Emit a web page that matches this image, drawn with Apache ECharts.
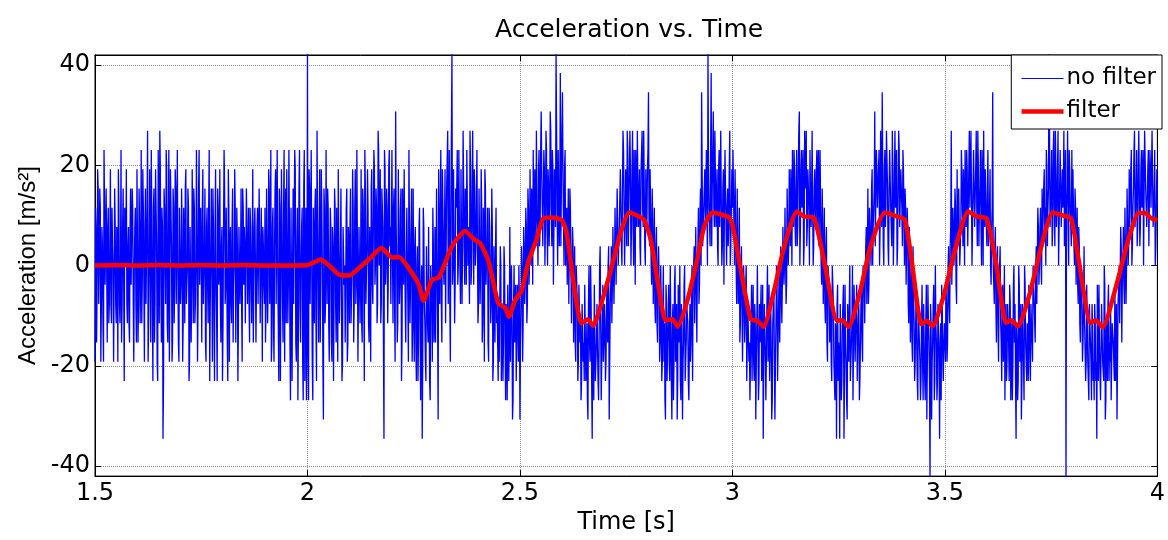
<!DOCTYPE html>
<html>
<head>
<meta charset="utf-8">
<title>Acceleration vs. Time</title>
<script src="https://cdn.jsdelivr.net/npm/echarts@6/dist/echarts.min.js"></script>
<style>
  html, body { margin: 0; padding: 0; background: #fff; }
  #app { width: 1168px; height: 540px; }
</style>
</head>
<body>
<div id="app"></div>
<script>
// raw accelerometer samples, in sensor counts (1 count = STEP m/s^2)
// evenX holds the samples on the 400 Hz grid from t = 1.5 s, oddX the samples half way between
var STEP = 3.84;
var T0 = 1.5;
var DT = 0.0025;

var evenA = [
  -5, 2, -1, 4, 0, 3, -2, 1, -5, 3, -1, 0, 2, -3, 1, -2, 3, 0, -1, 2,
  -3, 1, 5, -2, 0, -4, 2, -1, 3, 0, -2, 1, -3, 2, -1, 4, -2, 0, 3, -4,
  1, -2, 2, 0, -3, 5, -1, 2, -2, 3, -5, 1, 0, 6, -2, 3, -4, 5, 1, -6,
  2, 7, -1, 3, -9, 4, 0, 6, -3, 2, -5, 5, 1, -4, 3, -1, 4, -2, 0, -5,
  3, -1, 2, -3, 1, 4, -2, 0, 3, -5, 2, -1, 1, 4, -3, 0, 2, -2, 6, -1,
  0, 3, -2, 1, -4, 2, -1, 3, -6, 1, 0, 4, -3, 2, -1, -6, 3, 0, -2, 1,
  -6, 2, 4, -1, 0, -6, 3, 1, -2, 2, -4, 0, 3, -1, 1, -3, 2, 0, -2, 4,
  -1, 1, -3, 2, 0, -2, 3, -1, 1, -4, 2, 0, -1, 3, -2, 1, -3, 0, 2, -1,
  3, -2, 1, -1, 4, 0, -5, 2, -3, 1, 5, -2, 0, -6, 3, -1, 2, -4, 6, 1,
  -3, 5, -1, 2, -7, 3, 0, -2, 6, -4, 1, -7, 4, -2, 0, 3, -7, 6, -1, -7
];
var oddA = [
  3, -4, 5, -2, 4, -5, 2, -3, 6, -1, 4, -4, 3, -2, 5, -3, 1, -5, 4, -2,
  2, -5, 3, -3, 6, -2, 4, -6, 1, 5, -3, 2, -4, 4, -1, 3, -5, 2, -2, 5,
  -4, 4, -3, 6, -1, 3, -5, 4, -2, 7, -3, 5, -4, 2, -6, 4, -2, 3, -5, 6,
  -3, 5, -4, 2, -6, 3, -2, 5, -4, 6, -1, 3, -5, 4, -3, 5, -2, 6, -4, 3,
  -2, 4, -5, 3, -3, 5, -1, 4, -6, 2, -4, 5, -3, 3, -2, 6, -5, 4, -1, 3,
  -4, 5, -2, 4, -5, 3, -3, 6, -2, 4, -5, 2, -6, 5, -3, 4, -1, 5, -4, 2,
  -3, 6, -2, 3, -4, 5, -5, 2, -3, 4, -1, 5, -4, 3, -6, 2, -2, 4, -5, 3,
  2, -3, 4, -2, 3, -4, 2, -3, 5, -1, 3, -4, 2, -2, 4, -3, 3, -5, 1, -2,
  -4, 4, -3, 5, -2, 6, -4, 3, -5, 4, -2, 6, -3, 4, -6, 5, -2, 3, -5, 4,
  5, -3, 6, -4, 3, -6, 4, -2, 5, -5, 3, -3, 6, -4, 2, -5, 4, -6, 3, -4
];
var evenB = [
  11, -7, 4, -2, 6, -7, 1, 3, -3, 7, -1, 2, -4, 5, 0, -8, 3, -2, 1, 4,
  -3, 0, 2, -5, 1, -2, 3, -4, 0, 5, -3, 1, -2, -5, 2, 0, -1, 4, -4, 1,
  2, -3, 0, 3, -2, 5, -1, 1, -5, 2, 0, -3, 4, -1, 6, -2, 1, 3, -4, 0,
  4, -1, 2, 5, 0, 3, -2, 6, 1, -3, 4, 2, -9, 5, 0, 3, -1, 6, 2, -2,
  1, 3, -2, 8, 0, -3, 2, -1, 4, -4, 1, 5, -2, 0, 3, -5, 2, -1, 4, -3,
  -2, 1, -4, 0, -6, 2, -3, -1, -9, 3, -2, -5, 1, -3, 2, -6, 0, -2, 3, -4,
  2, -1, 4, -8, 1, 3, -2, 5, 0, 2, -3, 4, 7, 1, -2, 3, 11, 0, 5, -1,
  3, 6, 0, 2, -2, 5, 1, 4, -1, 3, 6, 0, 2, 7, -1, 4, 2, 5, 0, 3,
  1, -2, 4, 0, 3, -3, 2, 5, -1, 1, -4, 3, 0, -2, 2, -5, -1, 1, -3, -4,
  -2, -5, 0, -3, -6, 1, -4, -2, -7, -1, -3, -5, 0, -8, -2, -4, -1, -6, -3, 0
];
var oddB = [
  -4, 5, -2, 6, -5, 3, -3, 4, -6, 2, -4, 5, -1, 3, -5, 4, -3, 6, -2, 3,
  -5, 3, -4, 2, -6, 4, -2, 3, -5, 1, -3, 4, -6, 2, -1, -4, 3, -5, 2, -3,
  4, -3, 5, -4, 3, -2, 6, -5, 2, -3, 5, -4, 3, -6, 4, -2, 5, -3, 2, -5,
  5, -2, 6, -1, 4, -3, 7, 0, 5, -2, 3, -4, 6, -1, 4, -3, 5, 1, -2, 6,
  -3, 4, -5, 2, -4, 5, -2, 3, -6, 4, -1, 5, -4, 3, -2, 6, -3, 2, -5, 4,
  -5, 2, -6, 1, -4, 3, -7, 0, -5, 2, -3, -6, 1, -4, 2, -7, 0, -5, 1, -3,
  -4, 4, -3, 5, -2, 6, -4, 3, -1, 5, -3, 4, -2, 6, -5, 3, -1, 5, -3, 4,
  4, -1, 6, 0, 5, -2, 7, 1, 4, -1, 6, 2, -2, 5, 0, 7, -1, 4, 1, 6,
  -3, 4, -2, 5, -4, 3, -5, 4, -1, 3, -5, 2, -3, 4, -6, 1, -4, 3, -2, -6,
  -5, 1, -6, -2, -4, 0, -7, -3, -1, -6, 2, -5, -3, -7, 0, -4, -6, -1, -5, -2
];
var evenC = [
  -8, -2, 0, -3, 1, -1, 2, -2, 3, 0, 1, 4, -1, 2, 5, 1, 3, 0, 6, 2,
  8, 3, 1, 5, 2, 6, 0, 4, 3, 7, 1, 5, 2, 4, 11, 3, 6, 1, 10, 4,
  9, 2, 5, 0, 3, 1, -2, 4, 0, -3, 1, -1, -4, 0, -2, -5, -1, -3, -6, -2,
  -4, -1, -6, -3, -8, 0, -5, -2, -9, -3, -1, -6, -4, -2, -7, 0, -3, -5, -1, -4,
  -3, -5, -1, 0, -8, -2, 1, -1, 2, 0, 3, -1, 4, 1, 2, 5, 0, 7, 3, 2,
  4, 7, 1, 3, 5, 2, 7, 0, 4, 6, 2, 7, 3, 1, 5, 7, 2, 4, 0, 3,
  5, 9, 1, 3, -1, 2, 0, -2, 1, -3, 0, -1, -4, -2, -5, 0, -3, -8, -2, -4,
  -1, -6, -3, -8, -2, -5, 0, -4, -8, -1, -3, -6, -2, -8, -4, 0, -5, -2, -3, -7,
  -2, -4, 0, -1, 1, -3, 2, 0, 3, -1, 4, 9, 1, 3, 5, 2, 6, 11, 3, 1,
  10, 4, 8, 2, 7, 3, 1, 5, 2, 7, 0, 4, -1, 6, 2, 3, 1, 5, 0, 3
];
var oddC = [
  -4, 1, -5, 2, -2, 3, -3, 4, -1, 5, 0, 3, 6, 1, 4, 7, 2, 5, 1, 6,
  5, 1, 6, 0, 7, 2, 5, 1, 8, 3, 6, -1, 5, 2, 7, 0, 6, 3, 1, 7,
  5, 0, 6, 2, -1, 4, -2, 3, -3, 2, -4, 1, -5, 0, -6, -1, -4, -7, -2, -5,
  -6, -1, -5, -7, -2, -4, 0, -6, -3, -7, -1, -5, -2, -6, -4, 1, -7, -3, -5, -2,
  -6, -2, -4, 1, -5, -1, -3, 2, -2, 3, -1, 4, 0, 2, 5, 1, 4, 6, 0, 5,
  1, 6, 3, 7, 0, 5, 2, 6, -1, 4, 7, 2, 5, 0, 6, 3, 7, 1, 5, 2,
  6, 2, 5, 0, 4, -2, 3, -3, 2, -4, 1, -5, 0, -6, -2, -5, -7, -1, -6, -3,
  -5, 0, -6, -3, -7, -1, -5, -2, -6, -4, 0, -7, -3, -5, -1, -6, -4, -2, -6, -4,
  -5, -1, -6, 0, -3, 2, -4, 1, -2, 3, 0, 5, 1, 4, 2, 6, 0, 5, 3, 6,
  1, 6, 3, 7, 2, 5, 0, 6, 4, 7, 1, 5, 3, 6, 0, 4, 2, 7, 1, 5
];
var evenD = [
  3, 6, 0, 2, -2, 1, -1, -4, 0, -2, -5, -1, -3, 0, -6, -2, -4, -7, -1, -3,
  -5, -2, -8, -3, 0, -6, -4, -1, -5, -9, -2, -3, -7, 0, -4, -6, -2, -8, -3, -1,
  -8, -3, -1, -4, 0, -2, 1, -1, 2, 0, 3, -1, 4, 1, 2, 5, 0, 3, 6, 2,
  4, 1, 5, 8, 2, 6, 3, 0, 7, 4, 1, 5, 3, 6, 2, 7, 0, 4, 3, 5,
  2, 6, 1, 3, -1, 2, 0, -2, 1, -4, 0, -1, -3, -5, 0, -2, -6, -3, -9, -1,
  -4, -9, -2, -6, -3, -9, -1, -5, -8, -3, -2, -6, -4, 0, -7, -3, -5, -1, -4, -2,
  -6, -2, -4, 0, -1, -3, 2, 0, -2, 3, 1, 4, 0, 2, 8, 1, 5, 3, 6, 2,
  3, 9, 1, 5, 2, 7, 4, 0, 6, 3, 1, 5, 2, 7, 3, 0, 4, 6, 2, 4,
  1, 5, 0, 3, -1, 2, -3, 0, -2, -4, 1, -3, -5, -1, -6, -2, -4, -7, -3, -5,
  -2, -6, -3, -8, -1, -4, -11, -3, -5, -2, -7, 0, -4, -6, -2, -9, -3, -1, -5, -4
];
var oddD = [
  6, 2, 5, 0, 4, -2, 3, -3, 1, -5, 0, -4, -1, -6, -2, -5, -7, -3, -6, -1,
  -6, -3, -5, 0, -7, -2, -4, -6, -1, -5, -3, -7, -2, -5, -1, -6, -4, -7, -2, -5,
  -5, 0, -6, -2, -4, 1, -3, 2, -1, 3, -2, 4, 0, 5, 1, 3, 6, 2, 5, 1,
  6, 2, 7, 0, 5, 3, 6, 1, 4, 7, 2, 5, 0, 6, 3, 7, 1, 5, 2, 6,
  5, 1, 6, 0, 4, -2, 3, -3, 2, -5, 0, -4, -2, -6, -1, -5, -7, -4, -2, -6,
  -5, -2, -7, -3, -1, -6, -4, -7, -2, -5, 0, -6, -3, -7, -1, -5, -2, -6, -4, -7,
  -4, -1, -5, 0, -3, 1, -2, 4, -1, 2, 0, 5, 2, 4, 1, 6, 3, 5, 0, 7,
  2, 5, 0, 6, 3, 7, 1, 4, 6, 2, 7, 0, 5, 3, 6, 1, 7, 2, 5, 3,
  6, 2, 4, -1, 3, -2, 2, -4, 0, -5, -1, -6, -3, -4, -7, -2, -5, -6, -1, -7,
  -4, -7, -1, -5, -3, -6, -2, -8, -4, -1, -6, -3, -7, -2, -5, -4, -7, -2, -6, -3
];
var evenE = [
  -3, -1, -5, 0, -2, 1, 7, -1, 2, 0, 3, -2, 1, 4, 0, 2, 5, 1, 3, 6,
  2, 5, 1, 7, 3, 4, 0, 6, 2, 5, 3, 7, 1, 4, 2, 6, 0, 3, 5, 2,
  4, 1, 3, 0, 2, 9, -1, 1, -2, 0, -3, -1, 1, -4, -2, -5, 0, -3, -6, -2,
  -4, -1, -7, -3, -5, 0, -2, -9, -4, -6, -1, -3, -8, -2, -5, 0, -4, -6, -3, -1,
  -5, -2, -3, 0, -1, -4, 1, -2, 2, 0, 3, -1, 1, 4, 2, 0, 5, 3, 11, 2,
  4, 1, 6, 3, 7, 2, 5, 0, 4, 6, 2, 3, 7, 1, -11, 4, 2, 6, 3, 1,
  2, 5, 0, 3, 1, -1, 2, -3, 0, -2, -4, 1, -3, -5, -1, -6, -2, -4, -7, -3,
  -5, -2, -6, -9, -3, -1, -4, -7, -2, -5, 0, -8, -3, -6, -1, -4, -2, -7, -3, -5,
  -1, -4, -8, -2, 0, -3, 1, -1, 2, -2, 3, 0, 4, 1, 2, 5, 0, 3, 6, 2,
  4, 1, 5, 7, 2, 6, 3, 0, 7, 4, 2, 5, 1, 6, 3, 7, 2, 4, 0, 3,
  3
];
var oddE = [
  -5, -2, -4, 1, -3, 2, -1, 3, 0, 4, -1, 5, 2, 4, 1, 6, 3, 5, 0, 4,
  6, 1, 5, 3, 7, 0, 4, 6, 2, 7, 1, 5, 3, 6, 0, 4, 7, 2, 5, 1,
  6, 2, 5, -1, 3, 0, -2, 2, -4, 1, -5, 0, -3, -6, -1, -4, -7, -2, -5, -3,
  -6, -2, -5, -7, -1, -4, -6, -3, -7, 0, -5, -2, -6, -4, -7, -1, -5, -3, -6, -2,
  -6, -3, -5, -1, -3, 0, -2, 3, -1, 2, 0, 4, 1, 5, 3, 6, 1, 4, 7, 3,
  6, 2, 7, 1, 5, 3, 7, 0, 6, 2, 5, 4, 1, 6, 3, 7, 0, 5, 2, 6,
  5, 1, 4, -1, 3, -2, 1, -4, 0, -5, -2, -3, -6, -1, -5, -7, -3, -5, -2, -6,
  -7, -3, -5, -1, -6, -4, -7, -2, -5, -6, -1, -7, -4, -2, -6, -5, -7, -3, -4, -6,
  -6, -2, -5, -1, -3, 2, -4, 0, -1, 3, -2, 4, 0, 5, 2, 6, 1, 4, 7, 3,
  6, 2, 7, 1, 5, 3, 6, 0, 7, 4, 2, 6, 1, 5, 3, 7, 2, 6, 1, 5
];

// filtered signal
var filtT = [1.5, 1.55, 1.6, 1.65, 1.7, 1.75, 1.8, 1.85, 1.9, 1.95, 2.0, 2.015, 2.031, 2.051, 2.074, 2.098,
  2.121, 2.148, 2.174, 2.199, 2.215, 2.246, 2.262, 2.273, 2.293, 2.309, 2.34, 2.371, 2.391, 2.406, 2.426,
  2.449, 2.465, 2.474, 2.488, 2.504, 2.519, 2.539, 2.555, 2.574, 2.598, 2.609, 2.629, 2.645, 2.66, 2.672,
  2.691, 2.715, 2.738, 2.757, 2.773, 2.792, 2.808, 2.824, 2.843, 2.859, 2.871, 2.894, 2.918, 2.934, 2.953,
  2.969, 2.992, 3.0, 3.019, 3.043, 3.058, 3.073, 3.098, 3.121, 3.152, 3.168, 3.191, 3.219, 3.246, 3.258,
  3.273, 3.301, 3.324, 3.359, 3.387, 3.406, 3.422, 3.445, 3.457, 3.471, 3.496, 3.523, 3.555, 3.574, 3.598,
  3.621, 3.644, 3.656, 3.672, 3.699, 3.726, 3.754, 3.777, 3.797, 3.816, 3.843, 3.855, 3.871, 3.902, 3.933,
  3.956, 3.972, 3.984, 4.0];
var filtV = [0, 0.1, 0, 0.1, 0, 0.1, 0, 0.1, 0, 0, 0.1, 0.6, 1.2, 0, -1.8, -2,
  -0.5, 1.5, 3.5, 1.6, 1.7, -1.5, -3.8, -7.0, -2.8, -2.4, 3.8, 6.9, 5.3, 4.5, 0.9,
  -7.5, -8.4, -10.2, -7, -5, 0.5, 5.2, 9.4, 9.6, 9.1, 6.8, -5, -11.5, -10.7, -12,
  -7.7, -0.5, 6.8, 10.6, 10.1, 9.1, 5.1, -3.1, -11, -10.7, -12.2, -7, 1.5, 7.9, 10.6,
  10.3, 9.6, 8.2, -0.5, -10.7, -11, -12.2, -5, 3.5, 10.8, 9.8, 9.6, -0.5, -11, -10.9,
  -12.2, -5, 3.5, 10.6, 9.8, 9.1, 0.9, -11.7, -11, -12.1, -6.4, 2.8, 10.8, 9.8, 9.4,
  0.2, -11.4, -10.9, -12.1, -5.8, 3.5, 10.6, 10, 9.4, 0.5, -11.4, -10.9, -12.3, -4.4, 5.5,
  10.5, 10.5, 9.5, 9.0];

var evenCounts = evenA.concat(evenB, evenC, evenD, evenE);
var oddCounts = oddA.concat(oddB, oddC, oddD, oddE);

var rawData = [];
for (var i = 0; i < evenCounts.length; i++) {
    rawData.push([T0 + i * DT, evenCounts[i] * STEP]);
    if (i < oddCounts.length) {
        rawData.push([T0 + (i + 0.5) * DT, oddCounts[i] * STEP]);
    }
}
var filtData = filtT.map(function (t, i) {
    return [t, filtV[i]];
});

var font = 'DejaVu Sans';
var gridLine = { show: true, lineStyle: { color: '#8c8c8c', type: 'dotted', width: 1 } };

var option = {
    animation: false,
    backgroundColor: '#fff',
    title: {
        text: 'Acceleration vs. Time',
        left: 490,
        top: 13,
        textStyle: {
            fontFamily: font,
            fontSize: 25,
            fontWeight: 'normal',
            color: '#000'
        }
    },
    legend: {
        orient: 'vertical',
        right: 6,
        top: 55,
        padding: [12, 6, 6, 8],
        itemGap: 10,
        itemWidth: 42,
        itemHeight: 14,
        backgroundColor: '#fff',
        borderColor: '#000',
        borderWidth: 1,
        borderRadius: 0,
        itemStyle: { opacity: 0 },
        textStyle: {
            fontFamily: font,
            fontSize: 23,
            color: '#000',
            padding: [0, 0, 0, -2]
        },
        data: [
            { name: 'no filter', lineStyle: { width: 1 } },
            { name: 'filter', lineStyle: { width: 4.5 } }
        ]
    },
    grid: {
        left: 95,
        top: 55,
        width: 1067,
        height: 425,
        show: true,
        borderColor: '#000',
        borderWidth: 1
    },
    xAxis: [{
        type: 'value',
        min: 1.5,
        max: 4,
        interval: 0.5,
        name: 'Time [s]',
        nameLocation: 'middle',
        nameGap: 33,
        nameTextStyle: { fontFamily: font, fontSize: 24, color: '#000' },
        axisLine: { onZero: false, lineStyle: { color: '#000', width: 1 } },
        axisTick: { inside: true, length: 6, lineStyle: { color: '#000' } },
        axisLabel: {
            fontFamily: font,
            fontSize: 24,
            color: '#000',
            margin: 6,
            formatter: function (v) { return String(v); }
        },
        splitLine: gridLine
    }, {
        type: 'value',
        position: 'top',
        min: 1.5,
        max: 4,
        interval: 0.5,
        axisLine: { onZero: false, lineStyle: { color: '#000' } },
        axisTick: { inside: true, length: 6, lineStyle: { color: '#000' } },
        axisLabel: { show: false },
        splitLine: { show: false }
    }],
    yAxis: [{
        type: 'value',
        min: -42,
        max: 42,
        splitNumber: 4,
        name: 'Acceleration [m/s²]',
        nameLocation: 'middle',
        nameGap: 54,
        nameTextStyle: { fontFamily: 'Liberation Sans', fontSize: 24, color: '#000' },
        axisLine: { show: true, onZero: false, lineStyle: { color: '#000', width: 1 } },
        axisTick: { show: true, inside: true, length: 6, lineStyle: { color: '#000' } },
        axisLabel: {
            fontFamily: font,
            fontSize: 24,
            color: '#000',
            margin: 5,
            showMinLabel: false,
            showMaxLabel: false
        },
        splitLine: gridLine
    }, {
        type: 'value',
        position: 'right',
        min: -42,
        max: 42,
        splitNumber: 4,
        axisLine: { show: true, onZero: false, lineStyle: { color: '#000' } },
        axisTick: { show: true, inside: true, length: 6, lineStyle: { color: '#000' } },
        axisLabel: { show: false },
        splitLine: { show: false }
    }],
    series: [{
        name: 'no filter',
        type: 'line',
        xAxisIndex: 0,
        yAxisIndex: 0,
        symbol: 'none',
        color: '#0000ff',
        lineStyle: { color: '#0000ff', width: 1.3 },
        data: rawData,
        z: 2
    }, {
        name: 'filter',
        type: 'line',
        xAxisIndex: 0,
        yAxisIndex: 0,
        symbol: 'none',
        smooth: 0.2,
        color: '#ff0000',
        lineStyle: { color: '#ff0000', width: 4.5 },
        data: filtData,
        z: 3
    }]
};

var myChart = echarts.init(document.getElementById('app'));
myChart.setOption(option);
</script>
</body>
</html>
